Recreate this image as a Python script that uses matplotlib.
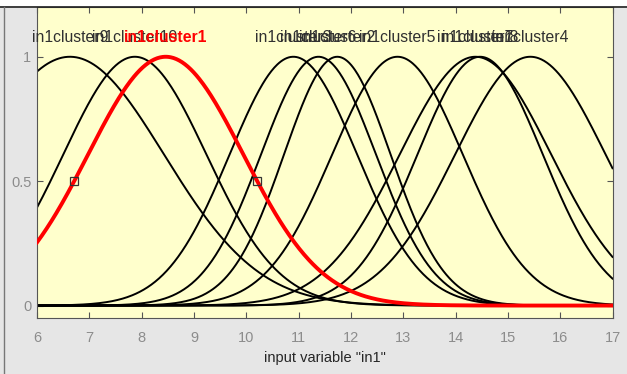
"""Gaussian membership functions of input "in1" (fuzzy clustering result)."""

import numpy as np
import matplotlib
matplotlib.use('Agg')
import matplotlib.pyplot as plt
from matplotlib.lines import Line2D
from matplotlib.patches import Rectangle

# ---------------------------------------------------------------------------
# Data
# ---------------------------------------------------------------------------
mf_names   = ['in1cluster9', 'in1cluster10', 'in1cluster1', 'in1cluster3',
              'in1cluster6', 'in1cluster2', 'in1cluster5', 'in1cluster7',
              'in1cluster8', 'in1cluster4']
mf_centers = [6.63, 7.87, 8.46, 10.90, 11.38, 11.74, 12.89, 14.38, 14.47, 15.43]
mf_sigmas  = [1.80, 1.37, 1.486, 1.22, 1.10, 1.02, 1.25, 1.45, 1.20, 1.44]
selected   = 2            # index of the highlighted MF (cluster1)

x_range  = (6, 17)
x_ticks  = [6, 7, 8, 9, 10, 11, 12, 13, 14, 15, 16, 17]
y_ticks  = [0, 0.5, 1]
y_labels = ['0', '0.5', '1']
x_label  = 'input variable "in1"'

FIG_BG  = '#e6e6e6'
AX_BG   = '#ffffcc'
FONT    = ['Liberation Sans', 'DejaVu Sans']

plt.rcParams['font.family'] = FONT

fig = plt.figure(figsize=(6.27, 3.74), dpi=100, facecolor=FIG_BG)
ax = fig.add_axes([37 / 627, 1 - 318 / 374, (612.5 - 37) / 627, (318 - 7) / 374])
ax.set_facecolor(AX_BG)

x = np.linspace(x_range[0], x_range[1], 600)
for i, (name, c, s) in enumerate(zip(mf_names, mf_centers, mf_sigmas)):
    y = np.exp(-(x - c) ** 2 / (2 * s ** 2))
    if i == selected:
        continue
    ax.plot(x, y, color='black', lw=1.4, zorder=2)
    ax.text(c, 1.078, name, ha='center', va='center', fontsize=11.3,
            color='#303030', zorder=4)

# highlighted MF on top
c, s = mf_centers[selected], mf_sigmas[selected]
y = np.exp(-(x - c) ** 2 / (2 * s ** 2))
ax.plot(x, y, color='red', lw=2.8, zorder=3)
ax.text(c, 1.078, mf_names[selected], ha='center', va='center', fontsize=11.3,
        color='red', fontweight='bold', zorder=5)
half = s * np.sqrt(2 * np.log(2))
ax.plot([c - half, c + half], [0.5, 0.5], ls='none', marker='s', ms=6,
        mfc='none', mec='#333333', mew=0.9, zorder=6)

ax.set_xlim(*x_range)
ax.set_ylim(-0.05, 1.2)
ax.set_xticks(x_ticks)
ax.set_yticks(y_ticks)
ax.set_yticklabels(y_labels)
ax.tick_params(direction='in', length=4, width=0.8, color='#555555',
               labelcolor='#8c8c8c', labelsize=10.5, top=True, right=True)
ax.tick_params(axis='x', pad=9)
ax.tick_params(axis='y', pad=4)
for sp in ax.spines.values():
    sp.set_color('#555555')
    sp.set_linewidth(0.8)
ax.set_xlabel(x_label, fontsize=10.5, color='#262626', labelpad=5)

# window frame bits around the figure
fig.add_artist(Rectangle((0, 1 - 6 / 374), 1, 6 / 374, transform=fig.transFigure,
                         facecolor='white', edgecolor='none'))
fig.add_artist(Line2D([0, 1], [1 - 7 / 374, 1 - 7 / 374], transform=fig.transFigure,
                      color='#222222', lw=1.2))
fig.add_artist(Line2D([4 / 627, 4 / 627], [0, 1 - 7 / 374], transform=fig.transFigure,
                      color='#777777', lw=1.0))

fig.savefig('out.png', dpi=100, facecolor=fig.get_facecolor())
